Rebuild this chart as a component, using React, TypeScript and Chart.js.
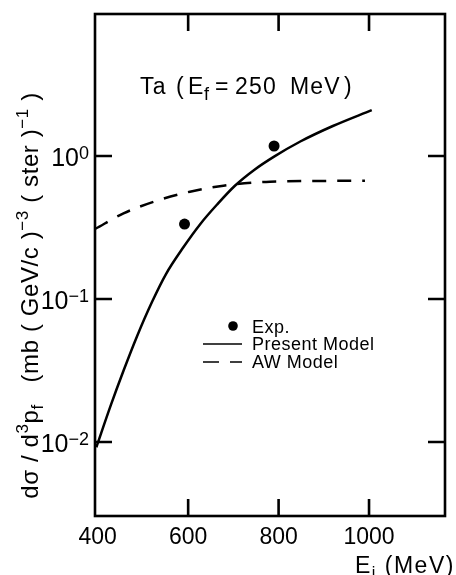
import React, { useEffect, useRef } from "react";
import { Chart, registerables } from "chart.js";

Chart.register(...registerables);

// ---- data ----
const presentE = [397, 429, 457, 487, 520, 551, 589, 627, 664, 704, 746, 790, 848, 920, 1006];
const presentV = [0.0092, 0.0181, 0.0315, 0.055, 0.0953, 0.1496, 0.229, 0.335, 0.458, 0.622, 0.799, 0.99, 1.263, 1.621, 2.094];
const awE = [395, 457, 531, 604, 678, 781, 991];
const awV = [0.31, 0.397, 0.487, 0.563, 0.62, 0.661, 0.672];
const expE = [592, 790];
const expV = [0.334, 1.175];
const xTickValues = [400, 600, 800, 1000];
const yTickValues = [0.01, 0.1, 1];
const yTickExponents = ["−2", "−1", "0"];
const legendLabels = ["Exp.", "Present Model", "AW Model"];
const X_MIN = 394;
const X_MAX = 1168;
const Y_MIN = 0.00304;
const Y_MAX = 9.84;

const FONT = '"Liberation Sans", Arial, Helvetica, sans-serif';

type Run = { t: string; size: number; dy: number; x?: number };

function runsWidth(ctx: CanvasRenderingContext2D, runs: Run[], spacing: number) {
  let w = 0;
  for (const r of runs) {
    ctx.font = `${r.size}px ${FONT}`;
    (ctx as any).letterSpacing = `${spacing}px`;
    w += ctx.measureText(r.t).width;
  }
  (ctx as any).letterSpacing = "0px";
  return w;
}

function drawRuns(ctx: CanvasRenderingContext2D, runs: Run[], x: number, y: number, spacing: number) {
  let cx = x;
  for (const r of runs) {
    ctx.font = `${r.size}px ${FONT}`;
    (ctx as any).letterSpacing = `${spacing}px`;
    const px = r.x !== undefined ? x + r.x : cx;
    ctx.fillText(r.t, px, y + r.dy);
    cx = px + ctx.measureText(r.t).width;
  }
  (ctx as any).letterSpacing = "0px";
  return cx - x;
}

const decorPlugin = {
  id: "decor",
  afterDraw(chart: any) {
    const { ctx, chartArea: a, scales } = chart;
    const xs = scales.x;
    const ys = scales.y;
    ctx.save();
    ctx.strokeStyle = "#000";
    ctx.fillStyle = "#000";
    ctx.lineWidth = 2.6;
    ctx.strokeRect(a.left, a.top, a.right - a.left, a.bottom - a.top);

    // inward ticks on all four sides
    const TL = 17;
    ctx.beginPath();
    for (const v of xTickValues) {
      const px = xs.getPixelForValue(v);
      if (px < a.left + 10) continue;
      ctx.moveTo(px, a.bottom);
      ctx.lineTo(px, a.bottom - TL);
      ctx.moveTo(px, a.top);
      ctx.lineTo(px, a.top + TL);
    }
    for (const v of yTickValues) {
      const py = ys.getPixelForValue(v);
      ctx.moveTo(a.left, py);
      ctx.lineTo(a.left + TL, py);
      ctx.moveTo(a.right, py);
      ctx.lineTo(a.right - TL, py);
    }
    ctx.stroke();

    ctx.textAlign = "left";
    ctx.textBaseline = "alphabetic";

    // y tick labels: 10 with superscript exponent
    for (let i = 0; i < yTickValues.length; i++) {
      const py = ys.getPixelForValue(yTickValues[i]);
      const sup = yTickExponents[i];
      ctx.font = `18px ${FONT}`;
      const ws = ctx.measureText(sup).width;
      ctx.font = `25px ${FONT}`;
      const w10 = ctx.measureText("10").width;
      const xr = a.left - 6;
      ctx.fillText("10", xr - ws - w10, py + 10);
      ctx.font = `18px ${FONT}`;
      ctx.fillText(sup, xr - ws, py + 3);
    }

    // annotation
    drawRuns(
      ctx,
      [
        { t: "Ta", size: 23, dy: 0, x: 0 },
        { t: "(", size: 23, dy: 0, x: 36 },
        { t: "E", size: 23, dy: 0, x: 48 },
        { t: "f", size: 18, dy: 6, x: 64 },
        { t: "=", size: 23, dy: 0, x: 75 },
        { t: "250", size: 23, dy: 0, x: 95 },
        { t: "MeV", size: 23, dy: 0, x: 150 },
        { t: ")", size: 23, dy: 0, x: 204 },
      ],
      a.left + 45,
      a.top + 80,
      1.2
    );

    // legend
    const lx = a.left + 108;
    const ly = a.top + 312;
    ctx.beginPath();
    ctx.arc(lx + 30, ly, 4.8, 0, Math.PI * 2);
    ctx.fill();
    ctx.lineWidth = 1.6;
    ctx.beginPath();
    ctx.moveTo(lx, ly + 18);
    ctx.lineTo(lx + 39, ly + 18);
    ctx.stroke();
    ctx.beginPath();
    ctx.moveTo(lx, ly + 36);
    ctx.lineTo(lx + 16, ly + 36);
    ctx.moveTo(lx + 27, ly + 36);
    ctx.lineTo(lx + 39, ly + 36);
    ctx.stroke();
    for (let i = 0; i < legendLabels.length; i++) {
      drawRuns(ctx, [{ t: legendLabels[i], size: 18, dy: 0 }], lx + 49, ly + 6.5 + i * 17.5, 0.5);
    }

    // x axis title
    drawRuns(
      ctx,
      [
        { t: "E", size: 23, dy: 0 },
        { t: "i", size: 16, dy: 5 },
        { t: " (MeV)", size: 23, dy: 0 },
      ],
      355,
      573,
      1.5
    );

    // y axis title (rotated)
    const yRuns: Run[] = [
      { t: "dσ / d", size: 24, dy: 0 },
      { t: "3", size: 17, dy: -10 },
      { t: "p", size: 24, dy: 0 },
      { t: "f", size: 17, dy: 5 },
      { t: "   (mb ( GeV/c )", size: 24, dy: 0 },
      { t: "−3", size: 17, dy: -10 },
      { t: " ( ster )", size: 24, dy: 0 },
      { t: "−1", size: 17, dy: -10 },
      { t: " )", size: 24, dy: 0 },
    ];
    const sp = 0.6;
    const W = runsWidth(ctx, yRuns, sp);
    ctx.save();
    ctx.translate(38, 295.5);
    ctx.rotate(-Math.PI / 2);
    drawRuns(ctx, yRuns, -W / 2, 0, sp);
    ctx.restore();

    ctx.restore();
  },
};

export default function App() {
  const ref = useRef<HTMLCanvasElement | null>(null);

  useEffect(() => {
    if (!ref.current) return;
    const toXY = (xs: number[], ys: number[]) => xs.map((x, i) => ({ x, y: ys[i] }));
    const zeroPad = (s: any) => {
      s.paddingTop = 0;
      s.paddingBottom = 0;
      s.paddingLeft = 0;
      s.paddingRight = 0;
    };
    const chart = new Chart(ref.current, {
      type: "scatter",
      data: {
        datasets: [
          {
            label: legendLabels[1],
            data: toXY(presentE, presentV),
            showLine: true,
            borderColor: "#000",
            borderWidth: 2.5,
            pointRadius: 0,
            cubicInterpolationMode: "monotone",
          },
          {
            label: legendLabels[2],
            data: toXY(awE, awV),
            showLine: true,
            borderColor: "#000",
            borderWidth: 2.5,
            borderDash: [14, 11],
            pointRadius: 0,
            cubicInterpolationMode: "monotone",
          },
          {
            label: legendLabels[0],
            data: toXY(expE, expV),
            showLine: false,
            pointRadius: 5.5,
            pointBackgroundColor: "#000",
            pointBorderColor: "#000",
            pointBorderWidth: 0,
          },
        ],
      } as any,
      options: {
        animation: false,
        responsive: false,
        devicePixelRatio: 1,
        events: [],
        layout: { padding: { top: 14, right: 11, left: 0, bottom: 0 } },
        plugins: { legend: { display: false }, tooltip: { enabled: false }, title: { display: false } },
        scales: {
          x: {
            type: "linear",
            min: X_MIN,
            max: X_MAX,
            grid: { display: false },
            border: { display: false },
            afterBuildTicks: (s: any) => {
              s.ticks = xTickValues.map((v) => ({ value: v }));
            },
            afterFit: (s: any) => {
              s.height = 59;
              zeroPad(s);
            },
            ticks: {
              autoSkip: false,
              maxRotation: 0,
              padding: 0,
              color: "#000",
              font: { family: FONT, size: 23 },
              callback: (v: any) => String(v),
            },
          },
          y: {
            type: "logarithmic",
            min: Y_MIN,
            max: Y_MAX,
            grid: { display: false },
            border: { display: false },
            afterBuildTicks: (s: any) => {
              s.ticks = yTickValues.map((v) => ({ value: v }));
            },
            afterFit: (s: any) => {
              s.width = 95;
              zeroPad(s);
            },
            ticks: { display: false },
          },
        },
      } as any,
      plugins: [decorPlugin],
    });
    return () => chart.destroy();
  }, []);

  return (
    <div style={{ position: "fixed", left: 0, top: 0, width: 456, height: 575, background: "#fff" }}>
      <canvas ref={ref} width={456} height={575} style={{ display: "block" }} />
    </div>
  );
}
